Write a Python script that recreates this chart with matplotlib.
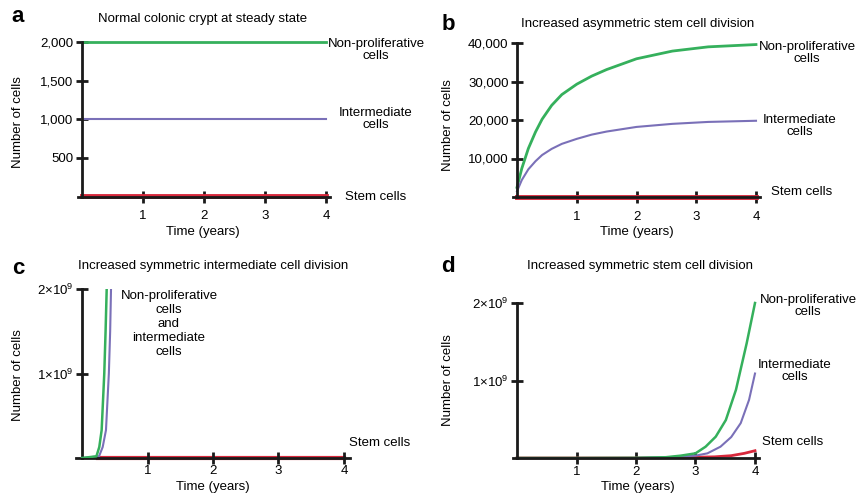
import numpy as np
import matplotlib.pyplot as plt

plt.rcParams['font.family'] = ['Liberation Sans', 'DejaVu Sans']
plt.rcParams['mathtext.fontset'] = 'custom'
plt.rcParams['mathtext.rm'] = 'Liberation Sans'

W, H = 858, 495

# warna garis
c_green = '#35b05c'
c_blue = '#7a70b8'
c_red = '#d8283c'

# --- data panel a (steady state)
t_a = [0, 4]
a_nonprol = [2000, 2000]
a_inter = [1000, 1000]
a_stem = [10, 10]
a_yticks = [500, 1000, 1500, 2000]
a_ylabels = ['500', '1,000', '1,500', '2,000']

# --- data panel b (asymmetric stem cell division)
t_b = [0, 0.08, 0.19, 0.31, 0.42, 0.58, 0.75, 1.0, 1.25, 1.5, 2.0, 2.6, 3.2, 4.0]
b_nonprol = [2500, 7400, 12600, 16900, 20200, 23800, 26600, 29300, 31400, 33100, 35900, 37900, 39000, 39600]
b_inter = [1500, 4400, 7200, 9300, 10900, 12500, 13800, 15100, 16200, 17000, 18200, 19000, 19500, 19800]
b_stem = [100] * len(t_b)
b_yticks = [10000, 20000, 30000, 40000]
b_ylabels = ['10,000', '20,000', '30,000', '40,000']

# --- data panel c (symmetric intermediate cell division)
t_c_green = [0, 0.22, 0.264, 0.30, 0.34, 0.36, 0.377]
c_nonprol = [0, 0.02e9, 0.13e9, 0.33e9, 1.0e9, 1.5e9, 2.0e9]
t_c_blue = [0, 0.26, 0.316, 0.366, 0.41, 0.43, 0.443]
c_inter = [0, 0.02e9, 0.13e9, 0.33e9, 1.0e9, 1.5e9, 2.0e9]
t_c_stem = [0.25, 4]
c_stem = [0, 0]

# --- data panel d (symmetric stem cell division)
t_d_green = [0, 1, 2, 2.5, 2.75, 3.0, 3.17, 3.34, 3.51, 3.68, 3.86, 4.0]
d_nonprol = [0, 0, 0.002e9, 0.01e9, 0.03e9, 0.06e9, 0.146e9, 0.275e9, 0.49e9, 0.88e9, 1.48e9, 2.0e9]
t_d_blue = [0, 1, 2, 2.5, 3.0, 3.2, 3.42, 3.6, 3.76, 3.9, 4.0]
d_inter = [0, 0, 0.001e9, 0.008e9, 0.03e9, 0.06e9, 0.146e9, 0.27e9, 0.45e9, 0.75e9, 1.09e9]
t_d_red = [0, 1, 2, 2.5, 3.0, 3.32, 3.6, 3.82, 4.0]
d_stem = [0, 0, 0, 0.003e9, 0.01e9, 0.015e9, 0.03e9, 0.06e9, 0.094e9]
big_yticks = [1e9, 2e9]
big_ylabels = [r'1$\times$10$^9$', r'2$\times$10$^9$']

xticks = [1, 2, 3, 4]
xlabels = ['1', '2', '3', '4']

FS = 9.5

fig = plt.figure(figsize=(W / 100, H / 100), dpi=100)


def px(x, y):
    return x / W, 1 - y / H


def make_ax(x0, x4, y0, ytop, ymax, xl=(-0.07, 4.07), xpad=6):
    # x0 = piksel untuk t=0, x4 = piksel untuk t=4
    s = (x4 - x0) / 4.0
    left = x0 + xl[0] * s
    right = x0 + xl[1] * s
    ax = fig.add_axes([left / W, 1 - y0 / H, (right - left) / W, (y0 - ytop) / H])
    ax.set_xlim(*xl)
    ax.set_ylim(0, ymax)
    ax.patch.set_alpha(0)
    for s_ in ['top', 'right']:
        ax.spines[s_].set_visible(False)
    ax.spines['left'].set_position(('data', 0))
    ax.spines['left'].set_bounds(0, ymax)
    for s_ in ['left', 'bottom']:
        ax.spines[s_].set_linewidth(2)
        ax.spines[s_].set_color('#1a1a1a')
    ax.tick_params(direction='inout', length=8, width=2, color='#1a1a1a',
                   labelsize=FS, pad=2)
    ax.tick_params(axis='x', pad=xpad)
    ax.set_xticks(xticks)
    ax.set_xticklabels(xlabels)
    return ax


def txt(x, y, s, **kw):
    fx, fy = px(x, y)
    fig.text(fx, fy, s, ha=kw.pop('ha', 'center'), va=kw.pop('va', 'center'),
             fontsize=kw.pop('fontsize', FS), linespacing=kw.pop('linespacing', 1.05), **kw)


# panel a
ax = make_ax(82, 326, 196.5, 42, 2000, xpad=6)
ax.plot(t_a, a_nonprol, color=c_green, lw=2, clip_on=False)
ax.plot(t_a, a_inter, color=c_blue, lw=1.5, clip_on=False)
ax.plot(t_a, a_stem, color=c_red, lw=3.5, clip_on=False)
ax.set_yticks(a_yticks)
ax.set_yticklabels(a_ylabels)

# panel b
ax = make_ax(517, 756, 197, 43, 40000, xpad=6)
ax.plot(t_b, b_nonprol, color=c_green, lw=2, clip_on=False)
ax.plot(t_b, b_inter, color=c_blue, lw=1.5, clip_on=False)
ax.plot(t_b, b_stem, color=c_red, lw=3.5, clip_on=False)
ax.set_yticks(b_yticks)
ax.set_yticklabels(b_ylabels)

# panel c
ax = make_ax(82, 344, 458, 289, 2e9, xl=(-0.09, 4.09), xpad=1)
ax.plot(t_c_stem, c_stem, color=c_red, lw=3, clip_on=False, zorder=1)
ax.plot(t_c_green, c_nonprol, color=c_green, lw=1.8, zorder=3)
ax.plot(t_c_blue, c_inter, color=c_blue, lw=1.5, zorder=2)
ax.set_yticks(big_yticks)
ax.set_yticklabels(big_ylabels)

# panel d
ax = make_ax(517, 755, 458, 303, 2e9, xpad=2)
ax.plot(t_d_red, d_stem, color=c_red, lw=2, clip_on=False)
ax.plot(t_d_blue, d_inter, color=c_blue, lw=1.5, clip_on=False)
ax.plot(t_d_green, d_nonprol, color=c_green, lw=1.8, clip_on=False)
ax.set_yticks(big_yticks)
ax.set_yticklabels(big_ylabels)

# huruf panel
for x, y, s in [(18, 17, 'a'), (448, 25, 'b'), (18, 268, 'c'), (448, 267, 'd')]:
    txt(x, y, s, fontsize=16, fontweight='bold')

# judul
txt(203, 19, 'Normal colonic crypt at steady state')
txt(638, 24, 'Increased asymmetric stem cell division')
txt(213, 266, 'Increased symmetric intermediate cell division')
txt(640, 266, 'Increased symmetric stem cell division')

# label sumbu
for x, y in [(18, 122), (448, 125), (18, 375), (448, 380)]:
    txt(x, y, 'Number of cells', rotation=90)
for x, y in [(203, 232), (637, 232), (213, 487), (638, 487)]:
    txt(x, y, 'Time (years)')

# label seri
txt(376, 50, 'Non-proliferative\ncells')
txt(376, 119, 'Intermediate\ncells')
txt(376, 197, 'Stem cells')

txt(807, 53, 'Non-proliferative\ncells')
txt(800, 126, 'Intermediate\ncells')
txt(802, 192, 'Stem cells')

txt(169, 324, 'Non-proliferative\ncells\nand\nintermediate\ncells', linespacing=1.2)
txt(380, 443, 'Stem cells')

txt(808, 306, 'Non-proliferative\ncells')
txt(795, 371, 'Intermediate\ncells')
txt(793, 442, 'Stem cells')

fig.savefig('out.png', dpi=100)
